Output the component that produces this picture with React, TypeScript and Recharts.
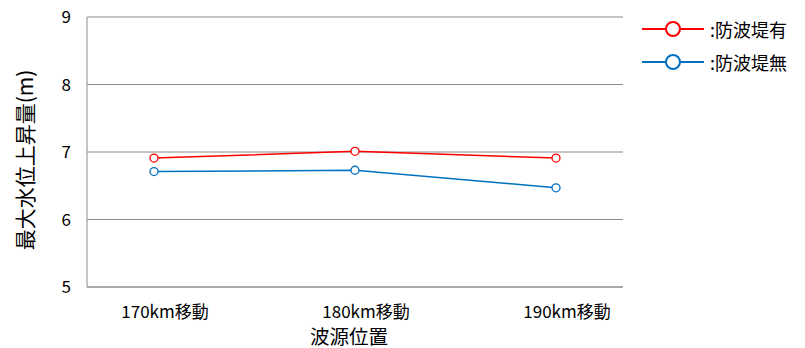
import React from 'react';
import { LineChart, Line, XAxis, YAxis, CartesianGrid } from 'recharts';

const categories = ['170km移動', '180km移動', '190km移動'];
const withBreakwater = [6.91, 7.01, 6.91];
const withoutBreakwater = [6.71, 6.73, 6.47];
const seriesNames = [':防波堤有', ':防波堤無'];
const seriesColors = ['#FF0000', '#0070C0'];
const yTicks = [5, 6, 7, 8, 9];
const xTitle = '波源位置';
const yTitle = '最大水位上昇量(m)';

const data = categories.map((c, i) => ({
  idx: i,
  name: c,
  a: withBreakwater[i],
  b: withoutBreakwater[i],
}));

const FONT = '"Noto Sans CJK JP", "Noto Sans", sans-serif';

const XTick = (props: any) => {
  const { x, y, payload } = props;
  return (
    <text x={x + 11} y={y + 23} textAnchor="middle" fontSize={17} fill="#000" fontFamily={FONT}>
      {categories[payload.value]}
    </text>
  );
};

const YTick = (props: any) => {
  const { x, y, payload } = props;
  return (
    <text x={x - 8} y={y + 6} textAnchor="end" fontSize={17} fill="#000" fontFamily={FONT}>
      {payload.value}
    </text>
  );
};

const YLabel = (props: any) => {
  const { viewBox } = props;
  const cy = viewBox.y + viewBox.height / 2 + 8;
  const cx = 24;
  return (
    <text
      x={cx}
      y={cy}
      transform={`rotate(-90, ${cx}, ${cy})`}
      textAnchor="middle"
      dominantBaseline="central"
      fontSize={21}
      fill="#000"
      fontFamily={FONT}
    >
      {yTitle}
    </text>
  );
};

const XLabel = (props: any) => {
  const { viewBox } = props;
  const cx = viewBox.x + viewBox.width / 2 - 6;
  return (
    <text x={cx} y={344} textAnchor="middle" fontSize={19.5} fill="#000" fontFamily={FONT}>
      {xTitle}
    </text>
  );
};

export default function App() {
  const keys = ['a', 'b'];
  return (
    <div style={{ position: 'absolute', left: 0, top: 0, width: 805, height: 348, background: '#fff', fontFamily: FONT }}>
      <LineChart width={805} height={348} data={data} margin={{ top: 17, right: 182, bottom: 0, left: 0 }}>
        <CartesianGrid vertical={false} stroke="#8c8c8c" strokeWidth={1} />
        <XAxis
          type="number"
          dataKey="idx"
          domain={[-1 / 3, 7 / 3]}
          ticks={[0, 1, 2]}
          tick={<XTick />}
          tickLine={false}
          height={61}
          axisLine={{ stroke: '#8c8c8c' }}
          allowDataOverflow
          label={<XLabel />}
        />
        <YAxis
          domain={[5, 9]}
          ticks={yTicks}
          width={87}
          tick={<YTick />}
          tickLine={false}
          axisLine={{ stroke: '#8c8c8c' }}
          label={<YLabel />}
        />
        {keys.map((k, i) => (
          <Line
            key={k}
            dataKey={k}
            stroke={seriesColors[i]}
            strokeWidth={1.5}
            dot={{ r: 4, fill: '#fff', stroke: seriesColors[i], strokeWidth: 1.3 }}
            isAnimationActive={false}
          />
        ))}
      </LineChart>
      <div style={{ position: 'absolute', left: 640, top: 12 }}>
        {seriesNames.map((n, i) => (
          <div key={n} style={{ display: 'flex', alignItems: 'center', height: 33 }}>
            <svg width={66} height={20}>
              <line x1={2} y1={10} x2={64} y2={10} stroke={seriesColors[i]} strokeWidth={2} />
              <circle cx={33} cy={10} r={7} fill="#fff" stroke={seriesColors[i]} strokeWidth={2} />
            </svg>
            <span style={{ fontSize: 18, color: '#000', marginLeft: 4 }}>{n}</span>
          </div>
        ))}
      </div>
    </div>
  );
}
